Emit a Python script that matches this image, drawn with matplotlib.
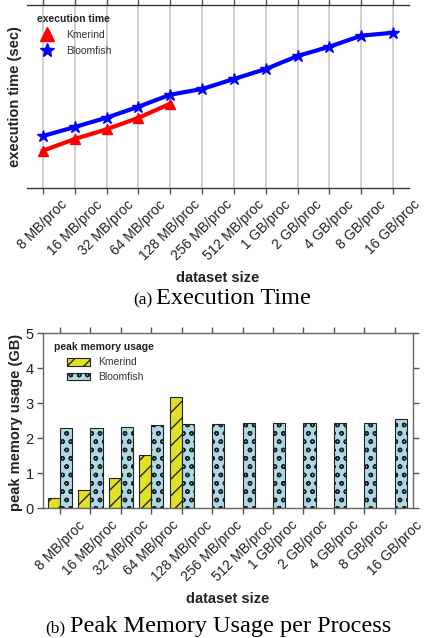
import numpy as np
import matplotlib
matplotlib.use("Agg")
import matplotlib.pyplot as plt
from matplotlib.lines import Line2D
from matplotlib.patches import Patch

# ---- data -------------------------------------------------------------
sizes = ['8 MB/proc', '16 MB/proc', '32 MB/proc', '64 MB/proc', '128 MB/proc',
         '256 MB/proc', '512 MB/proc', '1 GB/proc', '2 GB/proc', '4 GB/proc',
         '8 GB/proc', '16 GB/proc']

# execution time (relative scale; the axis carries no tick labels)
time_kmerind = [37.3, 49.0, 58.7, 70.2, 84.3]
time_bloomfish = [52.0, 61.0, 70.3, 81.3, 93.3, 99.0, 109.0, 119.0,
                  132.0, 141.3, 152.3, 155.3]

# peak memory usage per process (GB)
mem_kmerind = [0.30, 0.51, 0.87, 1.51, 3.18]
mem_bloomfish = [2.29, 2.30, 2.32, 2.37, 2.40, 2.42, 2.43, 2.43,
                 2.43, 2.43, 2.45, 2.54]

# ---- style ------------------------------------------------------------
plt.rcParams['font.family'] = ['Liberation Sans', 'DejaVu Sans']
plt.rcParams['hatch.linewidth'] = 1.0

W, H = 424, 638
fig = plt.figure(figsize=(W / 100, H / 100), dpi=100)


def fx(px):
    return px / W


def fy(py):
    return 1 - py / H


TXT = '#222222'
LEG = '#333333'
SERIF = ['Liberation Serif', 'DejaVu Serif']
x = np.arange(len(sizes))

# ---- (a) execution time -----------------------------------------------
ax1 = fig.add_axes([fx(27), fy(188), fx(409) - fx(27), fy(5) - fy(188)])
ax1.plot(x, time_bloomfish, color='blue', lw=3, marker='*', ms=9,
         mew=1, mec='blue', zorder=3)
ax1.plot(x[:len(time_kmerind)], time_kmerind, color='red', lw=3,
         marker='^', ms=7.5, mew=1, mec='red', zorder=4)
ax1.set_xlim(-0.5, 11.5)
ax1.set_ylim(0, 183)
ax1.set_yticks([])
for s in ('left', 'right'):
    ax1.spines[s].set_visible(False)
for s in ('top', 'bottom'):
    ax1.spines[s].set_color('#333333')
    ax1.spines[s].set_linewidth(1.0)
ax1.set_xticks(x)
ax1.set_xticklabels(sizes, rotation=45, fontsize=10, color=TXT)
ax1.tick_params(axis='x', direction='out', top=True, bottom=True,
                length=4, width=1, color='#555555', pad=3)
ax1.grid(axis='x', color='#cccccc', lw=1.3)
ax1.set_axisbelow(True)

fig.text(fx(15), fy(96.5), 'execution time (sec)', rotation=90,
         ha='center', va='center', fontsize=10.5, fontweight='bold', color=TXT)
fig.text(fx(218), fy(278), 'dataset size', ha='center', va='center',
         fontsize=10.5, fontweight='bold', color=TXT)
fig.text(fx(152), fy(304), '(a)', ha='right', va='baseline',
         fontsize=12.5, family=SERIF, color='black')
fig.text(fx(156), fy(304), 'Execution Time', ha='left', va='baseline',
         fontsize=17.5, family=SERIF, color='black')

fig.text(fx(37), fy(19.5), 'execution time', ha='left', va='center',
         fontsize=7.5, fontweight='bold', color=TXT)
h_a = [Line2D([], [], color='red', marker='^', ls='none', ms=9.5),
       Line2D([], [], color='blue', marker='*', ls='none', ms=10.5)]
leg1 = ax1.legend(h_a, ['Kmerind', 'Bloomfish'], loc='upper left',
                  bbox_to_anchor=(fx(41.5), fy(30)),
                  bbox_transform=fig.transFigure, frameon=False,
                  fontsize=7.5, handlelength=1.05, handletextpad=1.35,
                  borderpad=0, borderaxespad=0, labelspacing=0.55,
                  labelcolor=LEG)

# ---- (b) peak memory usage --------------------------------------------
ax2 = fig.add_axes([fx(43.3), fy(508.3), fx(413) - fx(43.3),
                    fy(333.3) - fy(508.3)])
ax2.bar(x[:len(mem_kmerind)] - 0.2, mem_kmerind, 0.4, color='#e0e024',
        edgecolor='#222222', lw=0.8, hatch='//')
ax2.bar(x + 0.2, mem_bloomfish, 0.4, color='#add8e6',
        edgecolor='#222222', lw=0.8, hatch='oo')
ax2.set_xlim(-0.55, 11.6)
ax2.set_ylim(0, 5)
ax2.set_yticks(range(6))
ax2.set_xticks(x)
ax2.set_xticklabels(sizes, rotation=45, fontsize=10, color=TXT)
ax2.tick_params(axis='y', labelsize=10.5, labelcolor=TXT)
ax2.tick_params(direction='out', top=True, bottom=True, left=True,
                right=True, length=4, width=1, color='#555555', pad=3)
for s in ax2.spines.values():
    s.set_color('#666666')
    s.set_linewidth(1.0)

fig.text(fx(16), fy(422), 'peak memory usage (GB)', rotation=90,
         ha='center', va='center', fontsize=10.5, fontweight='bold', color=TXT)
fig.text(fx(228), fy(599), 'dataset size', ha='center', va='center',
         fontsize=10.5, fontweight='bold', color=TXT)
fig.text(fx(65), fy(632), '(b)', ha='right', va='baseline',
         fontsize=12.5, family=SERIF, color='black')
fig.text(fx(70), fy(632), 'Peak Memory Usage per Process', ha='left',
         va='baseline', fontsize=17.5, family=SERIF, color='black')

fig.text(fx(54.3), fy(346.7), 'peak memory usage', ha='left', va='center',
         fontsize=7.5, fontweight='bold', color=TXT)
h_b = [Patch(facecolor='#e0e024', edgecolor='#222222', hatch='//', lw=0.8),
       Patch(facecolor='#add8e6', edgecolor='#222222', hatch='oo', lw=0.8)]
leg2 = ax2.legend(h_b, ['Kmerind', 'Bloomfish'], loc='upper left',
                  bbox_to_anchor=(fx(67), fy(357.5)),
                  bbox_transform=fig.transFigure, frameon=False,
                  fontsize=7.5, handlelength=2.2, handleheight=0.75,
                  handletextpad=0.75, borderpad=0, borderaxespad=0,
                  labelspacing=0.45, labelcolor=LEG)

fig.savefig('out.png', dpi=100)
